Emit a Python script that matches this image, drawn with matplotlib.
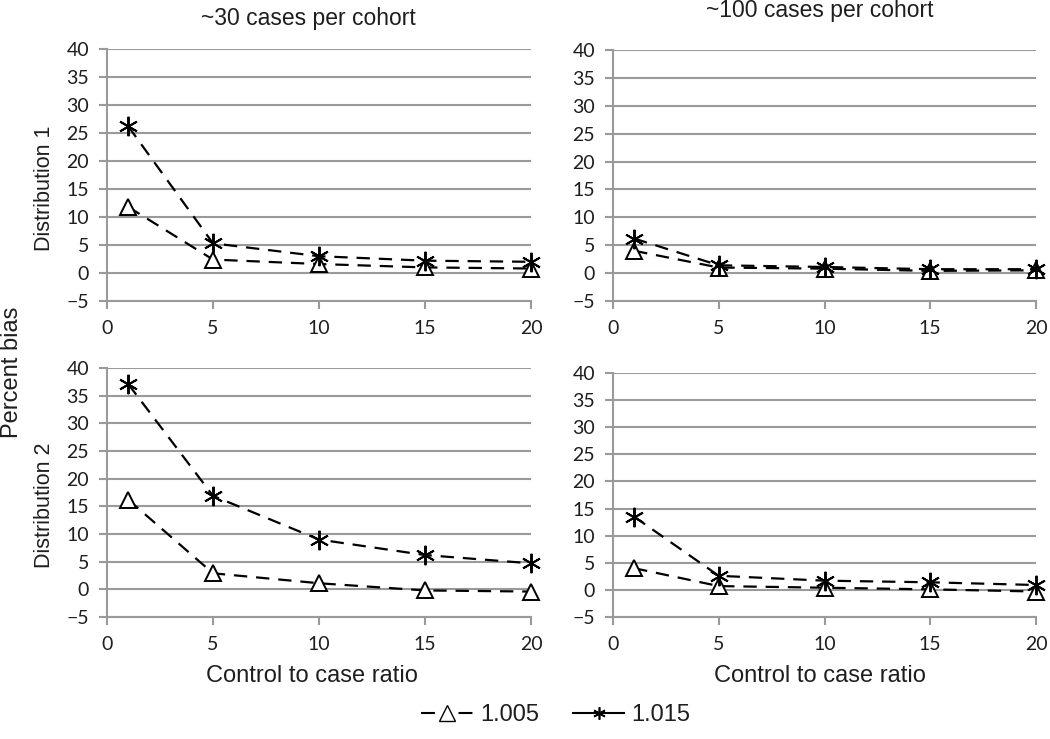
import numpy as np
import matplotlib.pyplot as plt
from matplotlib.lines import Line2D

ratio = [1, 5, 10, 15, 20]

# Distribution 1
d1_30_tri = [11.8, 2.4, 1.6, 1.0, 0.8]
d1_30_star = [26.2, 5.3, 3.0, 2.2, 2.0]
d1_100_tri = [4.0, 1.0, 0.8, 0.4, 0.5]
d1_100_star = [6.2, 1.4, 1.1, 0.7, 0.7]

# Distribution 2
d2_30_tri = [16.2, 2.9, 1.1, -0.2, -0.4]
d2_30_star = [37.1, 16.9, 9.0, 6.2, 4.7]
d2_100_tri = [4.0, 0.7, 0.4, 0.1, -0.3]
d2_100_star = [13.5, 2.6, 1.7, 1.4, 0.9]

col_titles = ["~30 cases per cohort", "~100 cases per cohort"]
row_titles = ["Distribution 1", "Distribution 2"]
legend_labels = ["1.005", "1.015"]

tick_font = "Lato"
text_font = "Liberation Sans"
grey = "#9a9a9a"
ink = "#1e1e1e"
star = (6, 2, 0)

fig = plt.figure(figsize=(10.5, 7.39), dpi=100)
W, H = 1050, 739


def px_axes(x0, x1, y0, y1):
    return fig.add_axes([x0 / W, 1 - y1 / H, (x1 - x0) / W, (y1 - y0) / H])


axes = [
    [px_axes(107, 531, 49, 301), px_axes(613, 1036, 50, 301)],
    [px_axes(107, 531, 368, 617), px_axes(613, 1036, 373, 617)],
]
data = [
    [(d1_30_tri, d1_30_star), (d1_100_tri, d1_100_star)],
    [(d2_30_tri, d2_30_star), (d2_100_tri, d2_100_star)],
]

for r in range(2):
    for c in range(2):
        ax = axes[r][c]
        tri, st = data[r][c]
        ax.plot(ratio, tri, color="black", lw=1.6, dashes=(6, 4),
                marker="^", ms=11, mfc="white", mec="black", mew=1.4,
                zorder=3, clip_on=False)
        ax.plot(ratio, st, color="black", lw=1.6, dashes=(6, 4),
                marker=star, ms=14, mec="black", mew=1.4,
                zorder=4, clip_on=False)
        ax.set_xlim(0, 20)
        ax.set_ylim(-5, 40)
        ax.set_xticks(np.arange(0, 21, 5))
        ax.set_yticks(np.arange(-5, 41, 5))
        ax.set_yticklabels([("\u22125" if v < 0 else str(v)) for v in range(-5, 41, 5)])
        for s in ["top", "right"]:
            ax.spines[s].set_visible(False)
        for s in ["left", "bottom"]:
            ax.spines[s].set_color(grey)
            ax.spines[s].set_linewidth(1.5)
        ax.grid(axis="y", color=grey, lw=1.5)
        ax.set_axisbelow(True)
        ax.tick_params(axis="both", colors=grey, width=1.5, length=6,
                       labelcolor=ink, labelsize=14)
        ax.tick_params(axis="x", pad=8)
        ax.tick_params(axis="y", pad=7)
        for lab in ax.get_xticklabels() + ax.get_yticklabels():
            lab.set_fontfamily(tick_font)
        ax.set_facecolor("none")

fig.text(308 / W, 1 - 18 / H, col_titles[0], ha="center", va="center",
         fontsize=16.5, family=text_font, color=ink)
fig.text(820 / W, 1 - 10 / H, col_titles[1], ha="center", va="center",
         fontsize=16.5, family=text_font, color=ink)
fig.text(44 / W, 1 - 188 / H, row_titles[0], rotation=90, ha="center",
         va="center", fontsize=15.5, family=text_font, color=ink)
fig.text(44 / W, 1 - 505 / H, row_titles[1], rotation=90, ha="center",
         va="center", fontsize=15.5, family=text_font, color=ink)
fig.text(12 / W, 1 - 372 / H, "Percent bias", rotation=90, ha="center",
         va="center", fontsize=17, family=text_font, color=ink)
fig.text(312 / W, 1 - 676 / H, "Control to case ratio", ha="center",
         va="center", fontsize=17, family=text_font, color=ink)
fig.text(820 / W, 1 - 676 / H, "Control to case ratio", ha="center",
         va="center", fontsize=17, family=text_font, color=ink)

handles = [
    Line2D([], [], color="black", lw=1.5, dashes=(6.7, 11.3), marker="^", ms=11,
           mfc="white", mec="black"),
    Line2D([], [], color="black", lw=1.5, marker=star, ms=9, mew=1.2),
]
fig.legend(handles, legend_labels, loc="center", bbox_to_anchor=(556 / W, 1 - 715 / H),
           ncol=2, frameon=False, prop={"family": text_font, "size": 17},
           handlelength=2.2, handletextpad=0.3, columnspacing=1.4,
           labelcolor=ink)

fig.savefig("out.png", dpi=100)
